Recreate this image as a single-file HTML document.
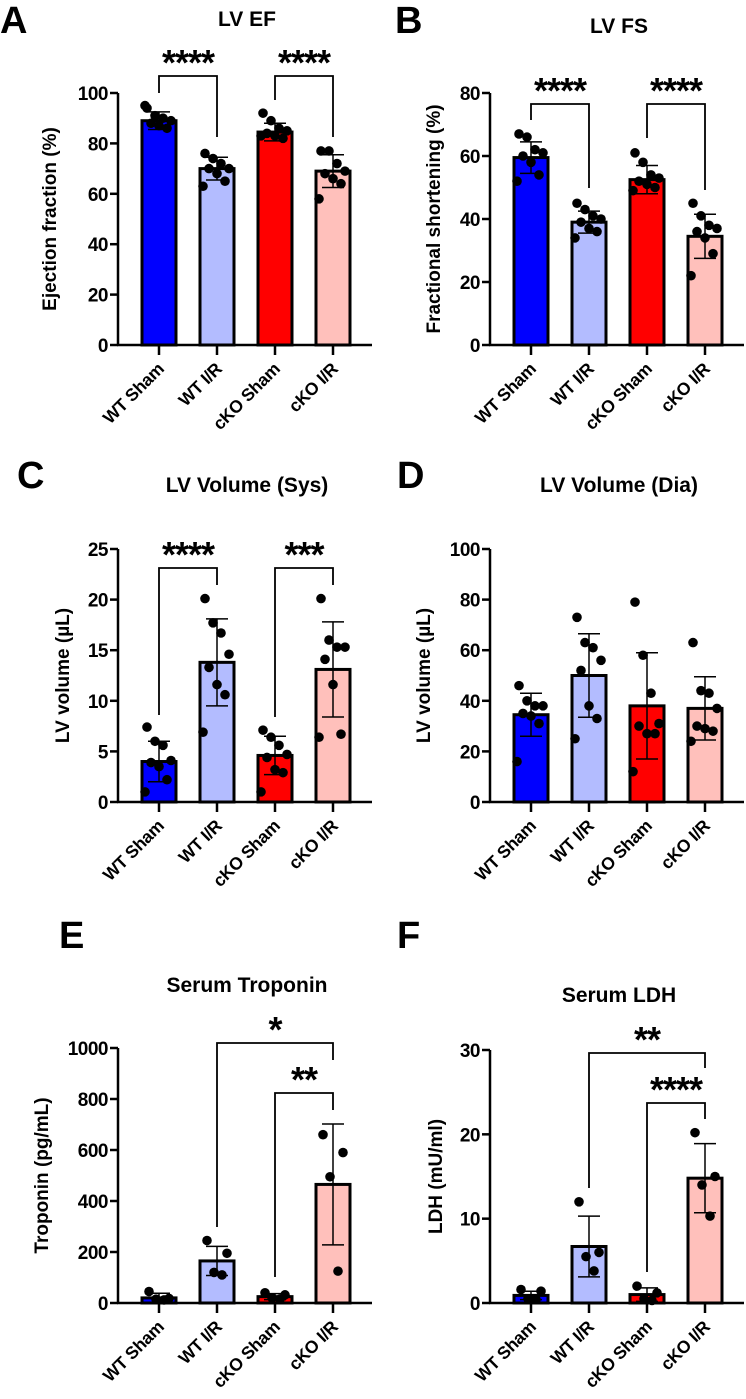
<!DOCTYPE html>
<html><head><meta charset="utf-8">
<style>
html,body{margin:0;padding:0;background:#fff;}
svg{display:block;font-family:"Liberation Sans",Arial,sans-serif;font-weight:bold;}
</style></head>
<body>
<svg id="fig" width="746" height="1399" viewBox="0 0 746 1399" xmlns="http://www.w3.org/2000/svg"></svg>
<script>
const groups = ["WT Sham","WT I/R","cKO Sham","cKO I/R"];
const colors = ["#0000ff","#b3bcff","#ff0000","#ffc0bb"];

const efMeans = [89, 70, 84.5, 69];
const efSD = [3.5, 4.5, 3.5, 6.5];
const efPoints = [[94,91,90,89,88,87,86,95],[76,74,72,70,70,68,65,63],[92,89,86,85,84,83,82,83],[77,77,72,69,68,66,64,58]];
const efTicks = [0,20,40,60,80,100];

const fsMeans = [59.5, 39, 52.5, 34.5];
const fsSD = [5, 3.5, 4.5, 7];
const fsPoints = [[67,66,62,61,60,58,54,52],[45,43,41,40,39,37,36,34],[61,58,54,53,52,51,50,49],[45,41,38,37,36,34,29,22]];
const fsTicks = [0,20,40,60,80];

const sysMeans = [4, 13.8, 4.6, 13.1];
const sysSD = [2, 4.3, 1.9, 4.7];
const sysPoints = [[7.4,6,5.6,4.1,3.9,3.5,2.2,1],[20.1,17.7,16.7,14.6,13.3,11.6,10.6,6.9],[7.1,6.4,5.6,4.7,4.4,3.2,2.9,1],[20.1,16,15.3,15.3,14.1,11.6,6.7,6.4]];
const sysTicks = [0,5,10,15,20,25];

const diaMeans = [34.5, 50, 38, 37];
const diaSD = [8.5, 16.5, 21, 12.5];
const diaPoints = [[46,40,38,38,35,34,31,16],[73,63,61,56,52,38,33,25],[79,58,43,31,30,27,27,12],[63,44,43,37,30,29,28,24]];
const diaTicks = [0,20,40,60,80,100];

const tropMeans = [20, 165, 25, 465];
const tropSD = [18, 57, 12, 237];
const tropPoints = [[45,18,15,12],[245,195,120,110],[40,32,20,15],[660,590,495,125]];
const tropTicks = [0,200,400,600,800,1000];

const ldhMeans = [0.9, 6.7, 1.0, 14.8];
const ldhSD = [0.5, 3.6, 0.8, 4.1];
const ldhPoints = [[1.6,1.4,0.5,0.4],[12,6,5.5,3.8],[2,1.2,0.5,0.3],[20.2,15,14,10.3]];
const ldhTicks = [0,10,20,30];

const NS = "http://www.w3.org/2000/svg";
const svg = document.getElementById("fig");
function mk(tag, attrs, parent){
  const e = document.createElementNS(NS, tag);
  for (const k in attrs) e.setAttribute(k, attrs[k]);
  (parent||svg).appendChild(e);
  return e;
}
const jit8 = [-12,-4,4,12,-8,0,8,-14];
const jit4 = [-10,10,-3,5];

function panel(cfg){
  const g = mk("g", {});
  
  
  const yMax = cfg.ticks[cfg.ticks.length-1];
  const y = v => cfg.y0 - (v / yMax) * (cfg.y0 - cfg.yTop);
  const xs = [cfg.ax+41, cfg.ax+99, cfg.ax+157, cfg.ax+215];
  const L = mk("text", {x:cfg.lx, y:cfg.ly, "font-size":38}, g); L.textContent = cfg.letter;
  
  
  const T = mk("text", {x:cfg.ax+129, y:cfg.ty, "font-size":21, "text-anchor":"middle"}, g); T.textContent = cfg.title;
  
  
  cfg.means.forEach((m,i)=>{
    const r = mk("rect", {x:xs[i]-17, y:y(m), width:34, height:cfg.y0-y(m), fill:colors[i], stroke:"#000", "stroke-width":3}, g);
    
    
  });
  cfg.points.forEach((pts,i)=>{
    pts.forEach((v,j)=>{
      const jj = pts.length>4 ? jit8[j%8] : jit4[j%4];
      const c = mk("circle", {cx:xs[i]+jj, cy:y(v), r:4.8, fill:"#000"}, g);
      
      
    });
  });
  cfg.means.forEach((m,i)=>{
    const lo = Math.max(0, m - cfg.sd[i]), hi = m + cfg.sd[i];
    const e = mk("path", {d:`M${xs[i]},${y(lo)}V${y(hi)}M${xs[i]-11},${y(hi)}H${xs[i]+11}M${xs[i]-11},${y(lo)}H${xs[i]+11}`, stroke:"#000", "stroke-width":1.5, fill:"none"}, g);
    
    
  });
  const ya = mk("path", {d:`M${cfg.ax},${cfg.yTop}V${cfg.y0}`, stroke:"#000","stroke-width":2.5}, g);
  
  
  const xa = mk("path", {d:`M${cfg.ax-1},${cfg.y0}H${cfg.ax+254}`, stroke:"#000","stroke-width":2.5}, g);
  
  
  cfg.ticks.forEach(t=>{
    mk("path", {d:`M${cfg.ax-8},${y(t)}H${cfg.ax}`, stroke:"#000","stroke-width":2.5}, g);
    const tl = mk("text", {x:cfg.ax-10, y:y(t)+7, "font-size":19, "text-anchor":"end", "letter-spacing":"-0.5"}, g);
    tl.textContent = t;
    
    
  });
  xs.forEach((x,i)=>{
    mk("path", {d:`M${x},${cfg.y0}V${cfg.y0+10}`, stroke:"#000","stroke-width":2.5}, g);
    const xl = mk("text", {x:0, y:0, "font-size":17.5, "text-anchor":"end", "letter-spacing":"-0.3", transform:`translate(${x+6},${cfg.y0+25}) rotate(-45)`}, g);
    xl.textContent = groups[i];
    
    
  });
  const yt = mk("text", {x:0, y:0, "font-size":19, "text-anchor":"middle", transform:`translate(${cfg.ytx},${(cfg.y0+cfg.yTop)/2}) rotate(-90)`}, g);
  yt.textContent = cfg.ylabel;
  
  
  cfg.sig.forEach(s=>{
    const xa1 = xs[s.a], xb = xs[s.b];
    const b = mk("path", {d:`M${xa1},${s.la}V${s.top}H${xb}V${s.lb}`, stroke:"#000","stroke-width":1.8, fill:"none"}, g);
    
    
    const st = mk("text", {x:(xa1+xb)/2, y:s.top-1, "font-size":36, "text-anchor":"middle", "letter-spacing":"-1"}, g);
    st.textContent = s.label;
    
    
  });
}

panel({name:"panel-a-lv-ef", letter:"A", lx:0, ly:33, title:"LV EF", ty:26, ax:118, y0:345, yTop:93, ticks:efTicks, means:efMeans, sd:efSD, points:efPoints, ylabel:"Ejection fraction (%)", ytx:56,
  sig:[{a:0,b:1,top:76,la:93,lb:137,label:"****"},{a:2,b:3,top:76,la:100,lb:137,label:"****"}]});
panel({name:"panel-b-lv-fs", letter:"B", lx:395, ly:33, title:"LV FS", ty:33, ax:490, y0:345, yTop:93, ticks:fsTicks, means:fsMeans, sd:fsSD, points:fsPoints, ylabel:"Fractional shortening (%)", ytx:440,
  sig:[{a:0,b:1,top:104,la:120,lb:188,label:"****"},{a:2,b:3,top:104,la:138,lb:190,label:"****"}]});
panel({name:"panel-c-lv-volume-sys", letter:"C", lx:17, ly:488, title:"LV Volume (Sys)", ty:492, ax:118, y0:802, yTop:549, ticks:sysTicks, means:sysMeans, sd:sysSD, points:sysPoints, ylabel:"LV volume (\u00b5L)", ytx:69,
  sig:[{a:0,b:1,top:568,la:715,lb:585,label:"****"},{a:2,b:3,top:568,la:717,lb:585,label:"***"}]});
panel({name:"panel-d-lv-volume-dia", letter:"D", lx:397, ly:488, title:"LV Volume (Dia)", ty:492, ax:490, y0:802, yTop:549, ticks:diaTicks, means:diaMeans, sd:diaSD, points:diaPoints, ylabel:"LV volume (\u00b5L)", ytx:430,
  sig:[]});
panel({name:"panel-e-serum-troponin", letter:"E", lx:59, ly:948, title:"Serum Troponin", ty:992, ax:118, y0:1303, yTop:1048, ticks:tropTicks, means:tropMeans, sd:tropSD, points:tropPoints, ylabel:"Troponin (pg/mL)", ytx:48,
  sig:[{a:1,b:3,top:1043,la:1227,lb:1060,label:"*"},{a:2,b:3,top:1093,la:1277,lb:1110,label:"**"}]});
panel({name:"panel-f-serum-ldh", letter:"F", lx:397, ly:948, title:"Serum LDH", ty:1002, ax:490, y0:1303, yTop:1050, ticks:ldhTicks, means:ldhMeans, sd:ldhSD, points:ldhPoints, ylabel:"LDH (mU/ml)", ytx:442,
  sig:[{a:1,b:3,top:1053,la:1188,lb:1068,label:"**"},{a:2,b:3,top:1103,la:1272,lb:1119,label:"****"}]});
</script>
</body></html>
